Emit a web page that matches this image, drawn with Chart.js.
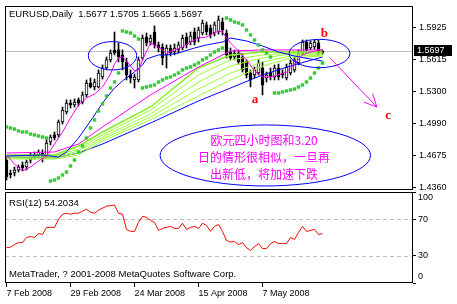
<!DOCTYPE html>
<html><head><meta charset="utf-8">
<script src="https://cdn.jsdelivr.net/npm/chart.js@4.4.1/dist/chart.umd.min.js"></script>
<style>
html,body{margin:0;padding:0;background:#fff;width:457px;height:304px;overflow:hidden}
canvas{position:absolute;left:0}
#main{top:0}
#rsi{top:186px}
</style></head><body>
<canvas id="main" width="457" height="196" style="width:457px;height:196px"></canvas>
<canvas id="rsi" width="457" height="118" style="width:457px;height:118px"></canvas>
<script>
// ---------- data ----------
const symbol = 'EURUSD', timeframe = 'Daily';
const tickBars = [0, 16, 32, 48, 64];
const tickDates = ['7 Feb 2008', '29 Feb 2008', '24 Mar 2008', '15 Apr 2008', '7 May 2008'];
const priceTicks = [1.5925, 1.5615, 1.5300, 1.4990, 1.4675, 1.4360];
const rsiTicks = [100, 70, 30, 0];
const rsiLevels = [70, 30];
const rsiPeriod = 12;

const open = [1.4628,1.4501,1.4501,1.4530,1.4579,1.4560,1.4628,1.4677,1.4677,1.4697,
1.4677,1.4805,1.4874,1.4874,1.5001,1.5099,1.5187,1.5168,1.5217,1.5197,
1.5266,1.5383,1.5344,1.5344,1.5442,1.5530,1.5609,1.5707,1.5707,1.5658,
1.5589,1.5462,1.5413,1.5413,1.5628,1.5834,1.5785,1.5883,1.5756,1.5736,
1.5658,1.5726,1.5687,1.5707,1.5726,1.5834,1.5785,1.5883,1.5824,1.5873,
1.5952,1.5922,1.5873,1.5883,1.5981,1.5873,1.5687,1.5638,1.5677,1.5638,
1.5589,1.5481,1.5462,1.5481,1.5530,1.5432,1.5491,1.5442,1.5530,1.5481,
1.5432,1.5481,1.5511,1.5579,1.5677,1.5785,1.5726,1.5736,1.5775,1.5677];
const high = [1.4658,1.4530,1.4560,1.4579,1.4609,1.4628,1.4697,1.4707,1.4727,1.4727,
1.4825,1.4874,1.4903,1.5021,1.5148,1.5217,1.5217,1.5227,1.5236,1.5295,
1.5413,1.5432,1.5422,1.5511,1.5560,1.5638,1.5707,1.5883,1.5775,1.5707,
1.5628,1.5511,1.5471,1.5638,1.5854,1.5873,1.5854,1.5942,1.5785,1.5766,
1.5756,1.5756,1.5766,1.5785,1.5854,1.5873,1.5883,1.5922,1.5932,1.6001,
1.5981,1.5952,1.5981,1.6040,1.6020,1.5903,1.5726,1.5707,1.5707,1.5667,
1.5609,1.5511,1.5540,1.5609,1.5589,1.5491,1.5530,1.5560,1.5569,1.5511,
1.5569,1.5609,1.5638,1.5707,1.5805,1.5805,1.5795,1.5805,1.5805,1.5705];
const low = [1.4432,1.4452,1.4472,1.4511,1.4521,1.4530,1.4599,1.4638,1.4648,1.4609,
1.4658,1.4776,1.4825,1.4854,1.4981,1.5079,1.5138,1.5148,1.5158,1.5178,
1.5246,1.5334,1.5315,1.5334,1.5422,1.5511,1.5589,1.5658,1.5589,1.5511,
1.5413,1.5383,1.5334,1.5393,1.5609,1.5746,1.5756,1.5726,1.5687,1.5560,
1.5530,1.5648,1.5658,1.5677,1.5707,1.5726,1.5756,1.5756,1.5785,1.5854,
1.5854,1.5824,1.5844,1.5863,1.5854,1.5628,1.5609,1.5609,1.5569,1.5491,
1.5432,1.5344,1.5432,1.5462,1.5266,1.5393,1.5413,1.5413,1.5413,1.5432,
1.5413,1.5462,1.5491,1.5560,1.5658,1.5687,1.5707,1.5716,1.5658,1.5665];
const close = [1.4462,1.4482,1.4530,1.4560,1.4550,1.4609,1.4677,1.4658,1.4707,1.4658,
1.4795,1.4854,1.4844,1.5001,1.5117,1.5187,1.5168,1.5197,1.5187,1.5266,
1.5383,1.5344,1.5393,1.5481,1.5530,1.5609,1.5677,1.5677,1.5638,1.5589,
1.5462,1.5432,1.5442,1.5609,1.5824,1.5775,1.5824,1.5756,1.5726,1.5628,
1.5726,1.5677,1.5726,1.5756,1.5824,1.5756,1.5844,1.5785,1.5903,1.5971,
1.5883,1.5854,1.5952,1.6001,1.5903,1.5658,1.5628,1.5677,1.5589,1.5511,
1.5462,1.5413,1.5511,1.5579,1.5364,1.5462,1.5442,1.5530,1.5442,1.5462,
1.5540,1.5579,1.5609,1.5677,1.5785,1.5707,1.5775,1.5785,1.5677,1.5697];

// Parabolic SAR (one dot per bar)
const sar = [1.4952,1.4942,1.4932,1.4913,1.4903,1.4903,1.4883,1.4874,1.4864,1.4854,1.4844,
1.4423,1.4432,1.4452,1.4482,1.4511,1.4570,1.4628,1.4707,1.4766,1.4844,1.4942,1.5021,1.5109,1.5178,1.5256,1.5334,1.5393,1.5481,
1.5893,1.5883,1.5873,1.5844,1.5814,
1.5334,1.5344,1.5354,1.5364,1.5393,1.5413,1.5432,1.5442,1.5462,1.5481,1.5511,1.5530,1.5540,1.5560,1.5579,1.5609,1.5628,1.5658,1.5687,1.5707,1.5726,
1.6020,1.6001,1.5981,1.5971,1.5952,1.5903,1.5854,1.5805,1.5756,1.5707,1.5677,1.5638,
1.5285,1.5285,1.5295,1.5305,1.5315,1.5324,1.5344,1.5364,1.5393,1.5432,1.5481,1.5530,1.5579];

// fast magenta average (read at these bars)
const maFastBars = [0,2,4,6,8,10,12,14,16,18,20,22,24,26,27,28,29,30,32,33,34,36,38,40,42,44,46,48,50,52,53,54,56,58,60,62,64,66,68,70,72,74,76,78,79];
const maFast = [1.4677,1.4589,1.4521,1.4560,1.4619,1.4668,1.4785,1.4903,1.5040,1.5168,
1.5236,1.5275,1.5344,1.5471,1.5569,1.5628,1.5638,1.5599,1.5501,1.5511,
1.5609,1.5775,1.5736,1.5677,1.5707,1.5736,1.5785,1.5824,1.5834,1.5873,
1.5893,1.5883,1.5775,1.5697,1.5609,1.5501,1.5442,1.5442,1.5462,1.5491,
1.5569,1.5658,1.5687,1.5707,1.5707];

// medium blue average
const blueMidBars = [0,9,13,15,18,21,24,27,29,32,34,35,38,40,43,47,50,54,56,60,64,68,72,76,79];
const blueMid = [1.4668,1.4677,1.4658,1.4707,1.4844,1.5011,1.5187,1.5334,1.5403,1.5491,
1.5560,1.5618,1.5658,1.5658,1.5677,1.5726,1.5756,1.5785,1.5824,1.5795,
1.5746,1.5687,1.5648,1.5618,1.5599];

// slow averages (fan), read at these bars
const fanBars = [0,12,18,24,36,48,56,64,71,79];
const magSlow = [1.4697,1.4707,1.4785,1.4952,1.5266,1.5540,1.5697,1.5707,1.5707,1.5707];
const green1 = [1.4677,1.4677,1.4766,1.4903,1.5148,1.5530,1.5658,1.5687,1.5687,1.5687];
const green2 = [1.4668,1.4668,1.4736,1.4874,1.5119,1.5462,1.5609,1.5658,1.5677,1.5677];
const green3 = [1.4658,1.4658,1.4717,1.4854,1.5079,1.5393,1.5550,1.5628,1.5667,1.5667];
const green4 = [1.4648,1.4648,1.4697,1.4834,1.5050,1.5324,1.5481,1.5589,1.5648,1.5658];
const green5 = [1.4638,1.4638,1.4677,1.4815,1.5021,1.5256,1.5413,1.5550,1.5628,1.5648];
const blueSlow = [1.4658,1.4648,1.4697,1.4785,1.4991,1.5207,1.5334,1.5462,1.5550,1.5638];

// RSI(12)
const rsi = [38.9,39.4,42.2,44.4,44.4,50.0,51.1,50.0,54.4,53.3,
61.1,61.1,61.1,70.0,75.6,76.7,75.6,76.7,76.7,78.9,
81.1,77.8,76.7,80.0,82.2,84.4,85.0,85.6,76.7,75.6,
58.9,56.7,56.7,66.7,73.3,72.2,68.9,66.7,57.8,60.0,
61.1,62.2,60.0,60.0,65.6,58.9,61.1,62.2,60.0,65.6,
63.3,56.7,62.2,64.4,56.7,46.7,45.0,45.6,42.2,44.4,
38.9,35.6,40.0,43.3,37.8,37.8,43.3,45.6,43.3,43.3,
43.3,50.0,47.8,55.6,62.2,56.7,57.8,58.9,53.3,54.2034];

// annotations drawn on the chart (data coordinates)
const ellipses = [
  {x: 26.5, y: 1.5650, rx: 6.05, ry: 0.0139},
  {x: 78.25, y: 1.5672, rx: 7.6, ry: 0.0139},
  {x: 64.7, y: 1.4673, rx: 26.3, ry: 0.0299}
];
const arrow = {x1: 80.9, y1: 1.5628, x2: 92.6, y2: 1.5148};
const letters = [{t: 'a', x: 62.1, y: 1.5217}, {t: 'b', x: 79.45, y: 1.5870}, {t: 'c', x: 95.4, y: 1.5060}];
const noteLines = ['欧元四小时图和3.20', '日的情形很相似，一旦再', '出新低，将加速下跌'];
const notePos = {x: 64.4, y: [1.4825, 1.4658, 1.4491]};

// ---------- chart ----------
Chart.defaults.font.family = '"Liberation Sans", Arial, sans-serif';
Chart.defaults.color = '#000';
const X_MIN = -0.375, X_MAX = 101.625;
const pts = (bars, vals) => bars.map((b, i) => ({x: b, y: vals[i]}));
const lineDs = (data, color, order, width) => ({type: 'line', data, borderColor: color, borderWidth: width || 1,
  pointRadius: 0, tension: 0, fill: false, order});
const last = close.length - 1;

const mainPlugin = {
  id: 'mainDecor',
  beforeDatasetsDraw(c) {
    const ctx = c.ctx, a = c.chartArea;
    const y = Math.round(c.scales.y.getPixelForValue(close[last])) + 0.5;
    ctx.save();
    ctx.strokeStyle = '#c0c0c0'; ctx.lineWidth = 1;
    ctx.beginPath(); ctx.moveTo(a.left, y); ctx.lineTo(a.right, y); ctx.stroke();
    ctx.restore();
  },
  afterDatasetsDraw(c) {
    const ctx = c.ctx, xs = c.scales.x, ys = c.scales.y, a = c.chartArea;
    ctx.save();
    ctx.beginPath(); ctx.rect(a.left, a.top, a.right - a.left, a.bottom - a.top); ctx.clip();
    ctx.strokeStyle = '#0000ff'; ctx.lineWidth = 1;
    ellipses.forEach(e => {
      const cx = xs.getPixelForValue(e.x), cy = ys.getPixelForValue(e.y);
      const rx = Math.abs(xs.getPixelForValue(e.x + e.rx) - cx);
      const ry = Math.abs(ys.getPixelForValue(e.y + e.ry) - cy);
      ctx.beginPath(); ctx.ellipse(cx, cy, rx, ry, 0, 0, Math.PI * 2); ctx.stroke();
    });
    // arrow
    const x1 = xs.getPixelForValue(arrow.x1), y1 = ys.getPixelForValue(arrow.y1);
    const x2 = xs.getPixelForValue(arrow.x2), y2 = ys.getPixelForValue(arrow.y2);
    const ang = Math.atan2(y2 - y1, x2 - x1);
    ctx.strokeStyle = '#ff00ff';
    ctx.beginPath(); ctx.moveTo(x1, y1); ctx.lineTo(x2, y2);
    [-0.45, 0.45].forEach(d => {
      ctx.moveTo(x2, y2);
      ctx.lineTo(x2 - 14 * Math.cos(ang + d), y2 - 14 * Math.sin(ang + d));
    });
    ctx.stroke();
    // letters
    ctx.fillStyle = '#ff0000';
    ctx.font = 'bold 13px "Liberation Serif", serif';
    ctx.textAlign = 'center'; ctx.textBaseline = 'middle';
    letters.forEach(l => ctx.fillText(l.t, xs.getPixelForValue(l.x), ys.getPixelForValue(l.y)));
    // note
    ctx.fillStyle = '#ff00ff';
    ctx.font = '12px "Noto Sans CJK SC", sans-serif';
    noteLines.forEach((t, i) => ctx.fillText(t, xs.getPixelForValue(notePos.x), ys.getPixelForValue(notePos.y[i])));
    ctx.restore();
  },
  afterDraw(c) {
    const ctx = c.ctx, a = c.chartArea;
    ctx.save();
    ctx.strokeStyle = '#000'; ctx.lineWidth = 1;
    ctx.strokeRect(a.left + 0.5, a.top + 0.5, a.right - a.left - 1, a.bottom - a.top - 1);
    ctx.fillStyle = '#000';
    ctx.font = '9.5px "Liberation Sans", Arial, sans-serif';
    ctx.textAlign = 'left'; ctx.textBaseline = 'middle';
    const ohlc = [open[last], high[last], low[last], close[last]].map(v => v.toFixed(4)).join(' ');
    ctx.fillText(symbol + ',' + timeframe + '  ' + ohlc, 9, 14);
    // current price tag
    const y = Math.round(c.scales.y.getPixelForValue(close[last]));
    ctx.fillRect(a.right + 1, y - 6, 38, 11);
    ctx.fillStyle = '#fff';
    ctx.font = '9px "Liberation Sans", Arial, sans-serif';
    ctx.fillText(close[last].toFixed(4), a.right + 4, y);
    ctx.restore();
  }
};

new Chart(document.getElementById('main'), {
  type: 'bar',
  data: {datasets: [
    {type: 'line', data: sar.map((v, i) => ({x: i, y: v})), showLine: false, pointStyle: 'rect',
      pointRadius: 2.4, pointBackgroundColor: '#32cd32', pointBorderWidth: 0, order: 1},
    lineDs(pts(maFastBars, maFast), '#ff00ff', 2),
    lineDs(pts(blueMidBars, blueMid), '#0000ff', 2),
    lineDs(pts(fanBars, magSlow), '#ff00ff', 3),
    lineDs(pts(fanBars, green1), '#88ee22', 3, 1.5),
    lineDs(pts(fanBars, green2), '#99ff33', 3),
    lineDs(pts(fanBars, green3), '#99ff33', 3),
    lineDs(pts(fanBars, green4), '#99ff33', 3),
    lineDs(pts(fanBars, green5), '#99ff33', 3),
    lineDs(pts(fanBars, blueSlow), '#0000ff', 3),
    {type: 'bar', data: low.map((l, i) => ({x: i, y: [l, high[i]]})), backgroundColor: '#000',
      barThickness: 1, grouped: false, order: 6},
    {type: 'bar', data: open.map((o, i) => ({x: i, y: [o, close[i]]})),
      backgroundColor: ctx => close[ctx.dataIndex] >= open[ctx.dataIndex] ? '#fff' : '#000',
      borderColor: '#000', borderWidth: 1, borderSkipped: false, minBarLength: 1,
      barThickness: 3, grouped: false, order: 5}
  ]},
  options: {
    responsive: false, animation: false, devicePixelRatio: 1,
    layout: {padding: {left: 5, top: 6, right: 0, bottom: 6}},
    plugins: {legend: {display: false}, tooltip: {enabled: false}},
    scales: {
      x: {type: 'linear', min: X_MIN, max: X_MAX, offset: false, display: false},
      y: {type: 'linear', position: 'right', min: 1.43345, max: 1.61377,
        afterBuildTicks: s => { s.ticks = priceTicks.map(v => ({value: v})); },
        afterFit: s => { s.width = 44; s.paddingTop = 0; s.paddingBottom = 0; },
        ticks: {callback: v => Number(v).toFixed(4), font: {size: 9}, padding: 3, color: '#000'},
        grid: {drawOnChartArea: false, drawTicks: true, tickLength: 3, color: '#000'},
        border: {display: false}}
    }
  },
  plugins: [mainPlugin]
});

const rsiPlugin = {
  id: 'rsiDecor',
  beforeDatasetsDraw(c) {
    const ctx = c.ctx, a = c.chartArea, ys = c.scales.y;
    ctx.save();
    ctx.strokeStyle = '#c0c0c0'; ctx.lineWidth = 1; ctx.setLineDash([4, 3]);
    rsiLevels.forEach(v => {
      const y = Math.round(ys.getPixelForValue(v)) + 0.5;
      ctx.beginPath(); ctx.moveTo(a.left, y); ctx.lineTo(a.right, y); ctx.stroke();
    });
    ctx.restore();
  },
  afterDraw(c) {
    const ctx = c.ctx, a = c.chartArea, ys = c.scales.y;
    ctx.save();
    ctx.strokeStyle = '#000'; ctx.lineWidth = 1;
    ctx.strokeRect(a.left + 0.5, a.top + 0.5, a.right - a.left - 1, a.bottom - a.top - 1);
    ctx.fillStyle = '#000'; ctx.textAlign = 'left'; ctx.textBaseline = 'middle';
    ctx.font = '9.5px "Liberation Sans", Arial, sans-serif';
    ctx.fillText('RSI(' + rsiPeriod + ') ' + rsi[rsi.length - 1].toFixed(4), 9, a.top + 11);
    ctx.fillText('MetaTrader, ? 2001-2008 MetaQuotes Software Corp.', 9, a.bottom - 9);
    ctx.font = '9px "Liberation Sans", Arial, sans-serif';
    rsiTicks.forEach(v => {
      const y = Math.min(Math.max(ys.getPixelForValue(v), a.top + 6), a.bottom - 6);
      ctx.fillText(String(v), a.right + 5, y);
    });
    ctx.restore();
  }
};

new Chart(document.getElementById('rsi'), {
  type: 'line',
  data: {datasets: [{data: rsi.map((v, i) => ({x: i, y: v})), borderColor: '#ff0000', borderWidth: 1,
    pointRadius: 0, tension: 0, fill: false}]},
  options: {
    responsive: false, animation: false, devicePixelRatio: 1,
    layout: {padding: {left: 5, top: 6, right: 0, bottom: 0}},
    plugins: {legend: {display: false}, tooltip: {enabled: false}},
    scales: {
      x: {type: 'linear', min: X_MIN, max: X_MAX, offset: false,
        afterBuildTicks: s => { s.ticks = tickBars.map(v => ({value: v})); },
        afterFit: s => { s.height = 21; s.paddingLeft = 0; s.paddingRight = 0; },
        ticks: {callback: v => tickDates[tickBars.indexOf(v)], autoSkip: false, maxRotation: 0,
          align: 'start', font: {size: 9}, padding: 1, color: '#000'},
        grid: {drawOnChartArea: false, drawTicks: true, tickLength: 4, color: '#000'},
        border: {display: false}},
      y: {type: 'linear', position: 'right', min: 0, max: 100,
        afterBuildTicks: s => { s.ticks = rsiTicks.map(v => ({value: v})); },
        afterFit: s => { s.width = 44; s.paddingTop = 0; s.paddingBottom = 0; },
        ticks: {callback: () => '', padding: 3},
        grid: {drawOnChartArea: false, drawTicks: true, tickLength: 3, color: '#000'},
        border: {display: false}}
    }
  },
  plugins: [rsiPlugin]
});
</script>
</body></html>
